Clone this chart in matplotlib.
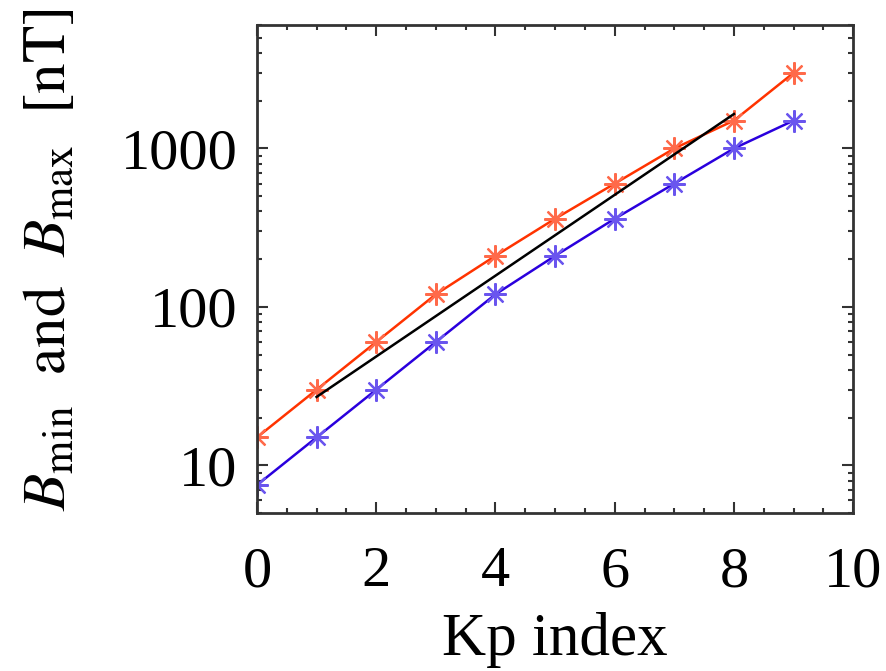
import matplotlib
matplotlib.use("Agg")
import matplotlib.pyplot as plt
from matplotlib.ticker import MultipleLocator, LogLocator, NullFormatter, FixedLocator

# Kp index vs field limits
kp = [0, 1, 2, 3, 4, 5, 6, 7, 8, 9]
b_max = [15, 30, 60, 120, 210, 360, 600, 1000, 1500, 3000]
b_min = [7.5, 15, 30, 60, 120, 210, 360, 600, 1000, 1500]

# straight fit line (end points)
fit_kp = [1, 8]
fit_b = [27, 1650]

xticks = [0, 2, 4, 6, 8, 10]
yticks = [10, 100, 1000]
ytick_labels = ["10", "100", "1000"]

plt.rcParams["font.family"] = ["Liberation Serif", "DejaVu Serif"]
plt.rcParams["mathtext.fontset"] = "stix"

fig = plt.figure(figsize=(8.86, 6.71), dpi=100)
ax = fig.add_axes([0.290, 0.2355, 0.673, 0.727])

star = (8, 2, 0)
ax.plot(kp, b_max, color="#ff3300", lw=1.8, marker=star, ms=16, mew=1.6,
        mec="#ff6a4a")
ax.plot(kp, b_min, color="#2a00dd", lw=1.8, marker=star, ms=16, mew=1.6,
        mec="#6a55ee")
ax.plot(fit_kp, fit_b, color="black", lw=1.8)

ax.set_yscale("log")
ax.set_xlim(0, 10)
ax.set_ylim(5, 6000)

ax.xaxis.set_major_locator(FixedLocator(xticks))
ax.xaxis.set_minor_locator(MultipleLocator(0.5))
ax.yaxis.set_major_locator(FixedLocator(yticks))
ax.set_yticklabels(ytick_labels)
ax.yaxis.set_minor_locator(LogLocator(base=10, subs=range(2, 10)))
ax.yaxis.set_minor_formatter(NullFormatter())

ax.tick_params(which="both", direction="in", top=True, right=True,
               color="#333333", labelsize=42)
ax.tick_params(which="major", length=8, width=1.5)
ax.tick_params(which="minor", length=3.5, width=1.5)
ax.tick_params(axis="y", which="major", pad=14)
ax.tick_params(axis="x", which="major", pad=24)
for s in ax.spines.values():
    s.set_color("#333333")
    s.set_linewidth(2)

ax.set_xlabel("Kp index", fontsize=44, labelpad=10)
ax.set_ylabel(r"$B_{\rm min}\ \ {\rm and}\ \ B_{\rm max}\ \ [{\rm nT}]$",
              fontsize=44)
ax.yaxis.set_label_coords(-0.30, 0.52)

fig.savefig("out.png", dpi=100)
